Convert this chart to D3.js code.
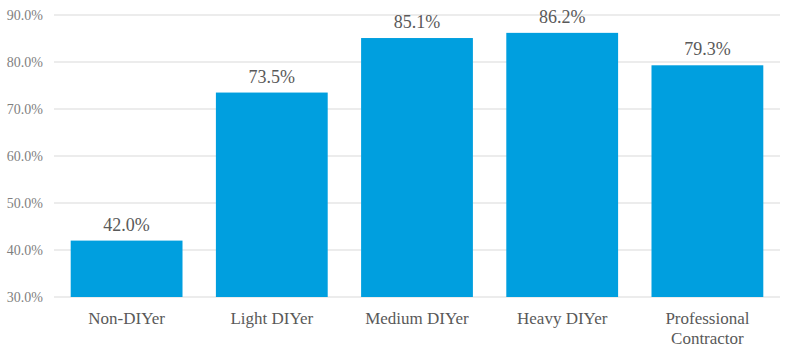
<!doctype html>
<html>
<head>
<meta charset="utf-8" />
<script src="https://cdn.jsdelivr.net/npm/d3@7"></script>
<style>
  body { margin: 0; background: #fff; }
  text { font-family: "Liberation Serif", "DejaVu Serif", serif; }
</style>
</head>
<body>
<svg id="chart" width="795" height="359"></svg>
<script>
var categories = [["Non-DIYer"], ["Light DIYer"], ["Medium DIYer"], ["Heavy DIYer"], ["Professional", "Contractor"]];
var values = [42.0, 73.5, 85.1, 86.2, 79.3];
var yTicks = [30, 40, 50, 60, 70, 80, 90];

var svg = d3.select("#chart");
var plotLeft = 54, plotRight = 780, plotTop = 15, plotBottom = 297;

var x = d3.scaleBand().domain(d3.range(values.length)).range([plotLeft, plotRight]).paddingInner(0.23).paddingOuter(0.115);
var y = d3.scaleLinear().domain([30, 90]).range([plotBottom, plotTop]);

// grid
svg.selectAll("line.grid").data(yTicks).enter().append("line")
    .attr("x1", plotLeft).attr("x2", plotRight)
    .attr("y1", function(d) { return y(d); }).attr("y2", function(d) { return y(d); })
    .attr("stroke", "#d9d9d9").attr("stroke-width", 1);

svg.selectAll("text.ytick").data(yTicks).enter().append("text")
    .attr("x", 43).attr("y", function(d) { return y(d) + 4.5; })
    .attr("text-anchor", "end").attr("font-size", 14).attr("fill", "#7f7f7f")
    .text(function(d) { return d.toFixed(1) + "%"; });

// bars
svg.selectAll("rect.bar").data(values).enter().append("rect")
    .attr("x", function(d, i) { return x(i); })
    .attr("width", x.bandwidth())
    .attr("y", function(d) { return y(d); })
    .attr("height", function(d) { return y(30) - y(d); })
    .attr("fill", "#009fdf");

svg.selectAll("text.val").data(values).enter().append("text")
    .attr("x", function(d, i) { return x(i) + x.bandwidth() / 2; })
    .attr("y", function(d) { return y(d) - 10; })
    .attr("text-anchor", "middle").attr("font-size", 18).attr("fill", "#595959")
    .text(function(d) { return d.toFixed(1) + "%"; });

// category labels
var cat = svg.selectAll("text.cat").data(categories).enter().append("text")
    .attr("x", function(d, i) { return x(i) + x.bandwidth() / 2; })
    .attr("y", 324)
    .attr("text-anchor", "middle").attr("font-size", 17).attr("fill", "#595959");
cat.selectAll("tspan").data(function(d) { return d; }).enter().append("tspan")
    .attr("x", function() { return d3.select(this.parentNode).attr("x"); })
    .attr("dy", function(d, j) { return j === 0 ? 0 : 20; })
    .text(function(d) { return d; });
</script>
</body>
</html>
